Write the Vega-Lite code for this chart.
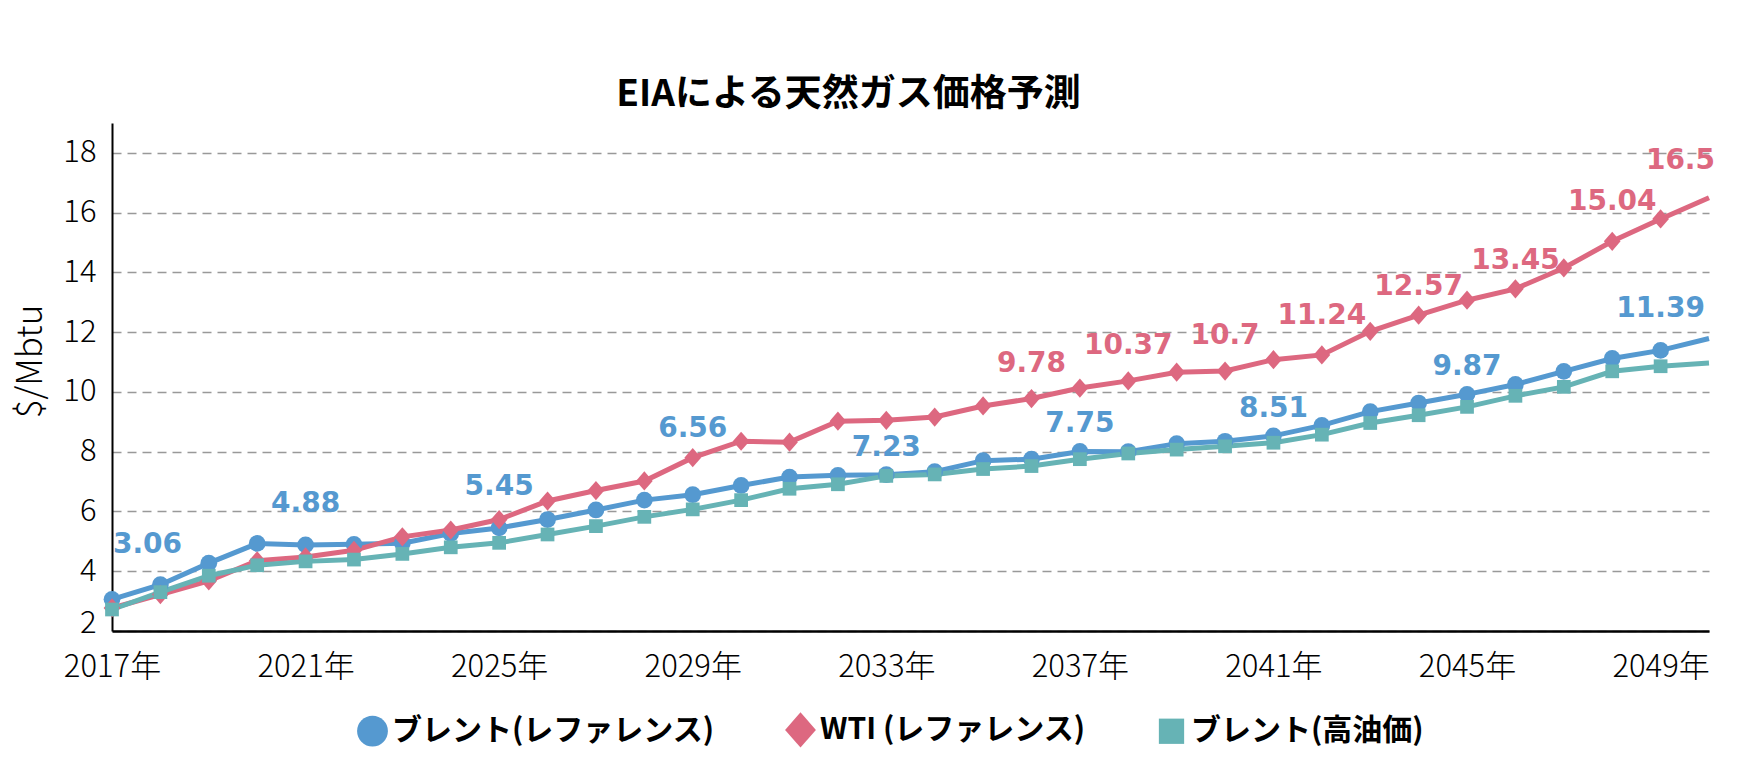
{
  "$schema": "https://vega.github.io/schema/vega-lite/v6.json",
  "width": 1597,
  "height": 508,
  "autosize": {"type": "none"},
  "padding": {"left": 112, "top": 123, "right": 28, "bottom": 150},
  "background": "white",
  "title": {"text": "EIAによる天然ガス価格予測", "font": "Noto Sans CJK JP", "fontSize": 37, "fontWeight": "bold", "color": "#000000", "anchor": "middle", "dx": -62, "offset": 9},
  "config": {"view": {"stroke": null}},
  "data": {"values": [
    {"year": 2017, "series": "ブレント(レファレンス)", "value": 3.06, "label": "3.06"},
    {"year": 2018, "series": "ブレント(レファレンス)", "value": 3.55},
    {"year": 2019, "series": "ブレント(レファレンス)", "value": 4.27},
    {"year": 2020, "series": "ブレント(レファレンス)", "value": 4.93},
    {"year": 2021, "series": "ブレント(レファレンス)", "value": 4.88, "label": "4.88"},
    {"year": 2022, "series": "ブレント(レファレンス)", "value": 4.9},
    {"year": 2023, "series": "ブレント(レファレンス)", "value": 4.94},
    {"year": 2024, "series": "ブレント(レファレンス)", "value": 5.26},
    {"year": 2025, "series": "ブレント(レファレンス)", "value": 5.45, "label": "5.45"},
    {"year": 2026, "series": "ブレント(レファレンス)", "value": 5.73},
    {"year": 2027, "series": "ブレント(レファレンス)", "value": 6.05},
    {"year": 2028, "series": "ブレント(レファレンス)", "value": 6.38},
    {"year": 2029, "series": "ブレント(レファレンス)", "value": 6.56, "label": "6.56"},
    {"year": 2030, "series": "ブレント(レファレンス)", "value": 6.87},
    {"year": 2031, "series": "ブレント(レファレンス)", "value": 7.15},
    {"year": 2032, "series": "ブレント(レファレンス)", "value": 7.21},
    {"year": 2033, "series": "ブレント(レファレンス)", "value": 7.23, "label": "7.23"},
    {"year": 2034, "series": "ブレント(レファレンス)", "value": 7.33},
    {"year": 2035, "series": "ブレント(レファレンス)", "value": 7.7},
    {"year": 2036, "series": "ブレント(レファレンス)", "value": 7.75},
    {"year": 2037, "series": "ブレント(レファレンス)", "value": 8.01, "label": "7.75"},
    {"year": 2038, "series": "ブレント(レファレンス)", "value": 8.0},
    {"year": 2039, "series": "ブレント(レファレンス)", "value": 8.27},
    {"year": 2040, "series": "ブレント(レファレンス)", "value": 8.35},
    {"year": 2041, "series": "ブレント(レファレンス)", "value": 8.53, "label": "8.51"},
    {"year": 2042, "series": "ブレント(レファレンス)", "value": 8.88},
    {"year": 2043, "series": "ブレント(レファレンス)", "value": 9.34},
    {"year": 2044, "series": "ブレント(レファレンス)", "value": 9.63},
    {"year": 2045, "series": "ブレント(レファレンス)", "value": 9.92, "label": "9.87"},
    {"year": 2046, "series": "ブレント(レファレンス)", "value": 10.25},
    {"year": 2047, "series": "ブレント(レファレンス)", "value": 10.69},
    {"year": 2048, "series": "ブレント(レファレンス)", "value": 11.12},
    {"year": 2049, "series": "ブレント(レファレンス)", "value": 11.39, "label": "11.39"},
    {"year": 2050, "series": "ブレント(レファレンス)", "value": 11.79},
    {"year": 2017, "series": "WTI (レファレンス)", "value": 2.77},
    {"year": 2018, "series": "WTI (レファレンス)", "value": 3.22},
    {"year": 2019, "series": "WTI (レファレンス)", "value": 3.68},
    {"year": 2020, "series": "WTI (レファレンス)", "value": 4.35},
    {"year": 2021, "series": "WTI (レファレンス)", "value": 4.48},
    {"year": 2022, "series": "WTI (レファレンス)", "value": 4.7},
    {"year": 2023, "series": "WTI (レファレンス)", "value": 5.15},
    {"year": 2024, "series": "WTI (レファレンス)", "value": 5.38},
    {"year": 2025, "series": "WTI (レファレンス)", "value": 5.73},
    {"year": 2026, "series": "WTI (レファレンス)", "value": 6.35},
    {"year": 2027, "series": "WTI (レファレンス)", "value": 6.7},
    {"year": 2028, "series": "WTI (レファレンス)", "value": 7.02},
    {"year": 2029, "series": "WTI (レファレンス)", "value": 7.8},
    {"year": 2030, "series": "WTI (レファレンス)", "value": 8.35},
    {"year": 2031, "series": "WTI (レファレンス)", "value": 8.32},
    {"year": 2032, "series": "WTI (レファレンス)", "value": 9.02},
    {"year": 2033, "series": "WTI (レファレンス)", "value": 9.05},
    {"year": 2034, "series": "WTI (レファレンス)", "value": 9.16},
    {"year": 2035, "series": "WTI (レファレンス)", "value": 9.53},
    {"year": 2036, "series": "WTI (レファレンス)", "value": 9.78, "label": "9.78"},
    {"year": 2037, "series": "WTI (レファレンス)", "value": 10.13},
    {"year": 2038, "series": "WTI (レファレンス)", "value": 10.37, "label": "10.37"},
    {"year": 2039, "series": "WTI (レファレンス)", "value": 10.66},
    {"year": 2040, "series": "WTI (レファレンス)", "value": 10.7, "label": "10.7"},
    {"year": 2041, "series": "WTI (レファレンス)", "value": 11.08},
    {"year": 2042, "series": "WTI (レファレンス)", "value": 11.24, "label": "11.24"},
    {"year": 2043, "series": "WTI (レファレンス)", "value": 12.03},
    {"year": 2044, "series": "WTI (レファレンス)", "value": 12.57, "label": "12.57"},
    {"year": 2045, "series": "WTI (レファレンス)", "value": 13.07},
    {"year": 2046, "series": "WTI (レファレンス)", "value": 13.45, "label": "13.45"},
    {"year": 2047, "series": "WTI (レファレンス)", "value": 14.15},
    {"year": 2048, "series": "WTI (レファレンス)", "value": 15.04, "label": "15.04"},
    {"year": 2049, "series": "WTI (レファレンス)", "value": 15.79},
    {"year": 2050, "series": "WTI (レファレンス)", "value": 16.5, "label": "16.5"},
    {"year": 2017, "series": "ブレント(高油価)", "value": 2.72},
    {"year": 2018, "series": "ブレント(高油価)", "value": 3.3},
    {"year": 2019, "series": "ブレント(高油価)", "value": 3.85},
    {"year": 2020, "series": "ブレント(高油価)", "value": 4.2},
    {"year": 2021, "series": "ブレント(高油価)", "value": 4.33},
    {"year": 2022, "series": "ブレント(高油価)", "value": 4.39},
    {"year": 2023, "series": "ブレント(高油価)", "value": 4.58},
    {"year": 2024, "series": "ブレント(高油価)", "value": 4.8},
    {"year": 2025, "series": "ブレント(高油価)", "value": 4.95},
    {"year": 2026, "series": "ブレント(高油価)", "value": 5.23},
    {"year": 2027, "series": "ブレント(高油価)", "value": 5.51},
    {"year": 2028, "series": "ブレント(高油価)", "value": 5.82},
    {"year": 2029, "series": "ブレント(高油価)", "value": 6.07},
    {"year": 2030, "series": "ブレント(高油価)", "value": 6.38},
    {"year": 2031, "series": "ブレント(高油価)", "value": 6.76},
    {"year": 2032, "series": "ブレント(高油価)", "value": 6.91},
    {"year": 2033, "series": "ブレント(高油価)", "value": 7.19},
    {"year": 2034, "series": "ブレント(高油価)", "value": 7.24},
    {"year": 2035, "series": "ブレント(高油価)", "value": 7.42},
    {"year": 2036, "series": "ブレント(高油価)", "value": 7.52},
    {"year": 2037, "series": "ブレント(高油価)", "value": 7.75},
    {"year": 2038, "series": "ブレント(高油価)", "value": 7.94},
    {"year": 2039, "series": "ブレント(高油価)", "value": 8.07},
    {"year": 2040, "series": "ブレント(高油価)", "value": 8.18},
    {"year": 2041, "series": "ブレント(高油価)", "value": 8.3},
    {"year": 2042, "series": "ブレント(高油価)", "value": 8.57},
    {"year": 2043, "series": "ブレント(高油価)", "value": 8.96},
    {"year": 2044, "series": "ブレント(高油価)", "value": 9.22},
    {"year": 2045, "series": "ブレント(高油価)", "value": 9.5},
    {"year": 2046, "series": "ブレント(高油価)", "value": 9.87},
    {"year": 2047, "series": "ブレント(高油価)", "value": 10.17},
    {"year": 2048, "series": "ブレント(高油価)", "value": 10.69},
    {"year": 2049, "series": "ブレント(高油価)", "value": 10.86},
    {"year": 2050, "series": "ブレント(高油価)", "value": 10.97}
  ]},
  "encoding": {
    "x": {
      "field": "year", "type": "quantitative",
      "scale": {"domain": [2017, 2050], "nice": false, "zero": false},
      "axis": {
        "title": null, "values": [2017, 2021, 2025, 2029, 2033, 2037, 2041, 2045, 2049],
        "labelExpr": "datum.value + '年'", "grid": false, "ticks": false,
        "domainColor": "#000000", "domainWidth": 2.5,
        "labelFont": "Noto Sans CJK JP", "labelFontSize": 31, "labelFontWeight": 300, "labelColor": "#000000",
        "labelPadding": 21, "labelFlush": false, "labelOverlap": false
      }
    },
    "y": {
      "field": "value", "type": "quantitative",
      "scale": {"domain": [2, 19], "nice": false, "zero": false},
      "axis": {
        "title": "$/Mbtu", "titleFont": "Noto Sans CJK JP", "titleFontSize": 35, "titleFontWeight": 300, "titleColor": "#000000", "titlePadding": 14, "titleY": 238,
        "values": [2, 4, 6, 8, 10, 12, 14, 16, 18],
        "grid": true, "gridDash": [9, 6], "gridColor": "#999999", "gridWidth": 1.5,
        "ticks": false, "domainColor": "#000000", "domainWidth": 2,
        "labelFont": "Noto Sans CJK JP", "labelFontSize": 31, "labelFontWeight": 300, "labelColor": "#000000", "labelPadding": 16,
        "labelOffset": {"condition": {"test": "datum.value == 2", "value": -8}, "value": 0}
      }
    }
  },
  "layer": [
    {
      "mark": {"type": "line", "strokeWidth": 5},
      "encoding": {
        "color": {"field": "series", "type": "nominal",
          "scale": {"domain": ["ブレント(レファレンス)", "WTI (レファレンス)", "ブレント(高油価)"], "range": ["#5599d0", "#dd6880", "#66b3b5"]}}
      }
    },
    {
      "transform": [{"filter": "datum.year < 2050"}],
      "mark": {"type": "point", "filled": true, "size": 280, "opacity": 1},
      "encoding": {
        "color": {"field": "series", "type": "nominal",
          "scale": {"domain": ["ブレント(レファレンス)", "WTI (レファレンス)", "ブレント(高油価)"], "range": ["#5599d0", "#dd6880", "#66b3b5"]},
          "legend": {"orient": "none", "legendX": 245, "legendY": 591, "direction": "horizontal", "title": null,
            "labelFont": "Noto Sans CJK JP", "labelFontSize": 30, "labelFontWeight": "bold", "labelColor": "#000000",
            "symbolSize": 950, "symbolStrokeWidth": 0, "columnPadding": 70, "labelOffset": 4, "symbolOpacity": 1, "labelLimit": 500}},
        "shape": {"field": "series", "type": "nominal",
          "scale": {"domain": ["ブレント(レファレンス)", "WTI (レファレンス)", "ブレント(高油価)"], "range": ["circle", "M0,-1.15L1,0L0,1.15L-1,0Z", "M-0.82,-0.82L0.82,-0.82L0.82,0.82L-0.82,0.82Z"]},
          "legend": {"orient": "none", "legendX": 245, "legendY": 591, "direction": "horizontal", "title": null,
            "labelFont": "Noto Sans CJK JP", "labelFontSize": 30, "labelFontWeight": "bold", "labelColor": "#000000",
            "symbolSize": 950, "symbolStrokeWidth": 0, "columnPadding": 70, "labelOffset": 4, "symbolOpacity": 1, "labelLimit": 500}}
      }
    },
    {
      "transform": [{"filter": "datum.label != null && indexof([2021, 2025, 2049], datum.year) >= 0"}],
      "mark": {"type": "text", "font": "DejaVu Sans", "fontSize": 28, "fontWeight": "bold", "baseline": "alphabetic", "align": "center", "dy": -33, "color": "#5599d0"},
      "encoding": {"text": {"field": "label"}}
    },
    {
      "transform": [{"filter": "datum.label != null && indexof([2033, 2037, 2041, 2045], datum.year) >= 0"}],
      "mark": {"type": "text", "font": "DejaVu Sans", "fontSize": 28, "fontWeight": "bold", "baseline": "alphabetic", "align": "center", "dy": -19, "color": "#5599d0"},
      "encoding": {"text": {"field": "label"}}
    },
    {
      "transform": [{"filter": "datum.label != null && indexof([2044, 2046], datum.year) >= 0"}],
      "mark": {"type": "text", "font": "DejaVu Sans", "fontSize": 28, "fontWeight": "bold", "baseline": "alphabetic", "align": "center", "dy": -20, "color": "#dd6880"},
      "encoding": {"text": {"field": "label"}}
    },
    {
      "transform": [{"filter": "datum.label != null && datum.year == 2029"}],
      "mark": {"type": "text", "font": "DejaVu Sans", "fontSize": 28, "fontWeight": "bold", "baseline": "alphabetic", "align": "center", "dy": -58, "color": "#5599d0"},
      "encoding": {"text": {"field": "label"}}
    },
    {
      "transform": [{"filter": "datum.label != null && datum.year == 2017"}],
      "mark": {"type": "text", "font": "DejaVu Sans", "fontSize": 28, "fontWeight": "bold", "baseline": "alphabetic", "align": "left", "dx": 1, "dy": -46, "color": "#5599d0"},
      "encoding": {"text": {"field": "label"}}
    },
    {
      "transform": [{"filter": "datum.label != null && indexof([2036, 2038, 2040], datum.year) >= 0"}],
      "mark": {"type": "text", "font": "DejaVu Sans", "fontSize": 28, "fontWeight": "bold", "baseline": "alphabetic", "align": "center", "dy": -27, "color": "#dd6880"},
      "encoding": {"text": {"field": "label"}}
    },
    {
      "transform": [{"filter": "datum.label != null && indexof([2042, 2048], datum.year) >= 0"}],
      "mark": {"type": "text", "font": "DejaVu Sans", "fontSize": 28, "fontWeight": "bold", "baseline": "alphabetic", "align": "center", "dy": -31, "color": "#dd6880"},
      "encoding": {"text": {"field": "label"}}
    },
    {
      "transform": [{"filter": "datum.label != null && datum.year == 2050"}],
      "mark": {"type": "text", "font": "DejaVu Sans", "fontSize": 28, "fontWeight": "bold", "baseline": "alphabetic", "align": "right", "dx": 6, "dy": -29, "color": "#dd6880"},
      "encoding": {"text": {"field": "label"}}
    }
  ]
}
